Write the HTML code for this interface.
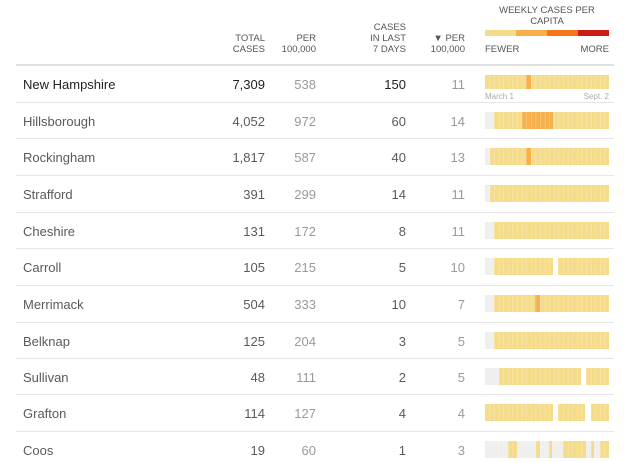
<!DOCTYPE html>
<html><head><meta charset="utf-8"><style>
body{margin:0;background:#fff;width:640px;height:462px;overflow:hidden;position:relative;font-family:"Liberation Sans",sans-serif}
.a{position:absolute}
.h{font-size:9.5px;color:#555;text-align:right;line-height:11px}
.r{font-size:13px;color:#5a5a5a}
.g{color:#9a9a9a}
.ln{position:absolute;left:16px;width:598px;height:1px;background:#e6e6e6}
</style></head><body>
<div class="a h" style="right:375px;top:33px">TOTAL<br>CASES</div>
<div class="a h" style="right:324px;top:33px">PER<br>100,000</div>
<div class="a h" style="right:234px;top:22px">CASES<br>IN LAST<br>7 DAYS</div>
<div class="a h" style="right:175px;top:33px">▼ PER<br>100,000</div>
<div class="a h" style="left:485px;width:124px;text-align:center;top:5px">WEEKLY CASES PER<br>CAPITA</div>
<div class="a" style="left:485px;top:30px;width:31px;height:6px;background:#f5dc8a"></div>
<div class="a" style="left:516px;top:30px;width:31px;height:6px;background:#f8ae4a"></div>
<div class="a" style="left:547px;top:30px;width:31px;height:6px;background:#f5761a"></div>
<div class="a" style="left:578px;top:30px;width:31px;height:6px;background:#cc1e14"></div>
<div class="a h" style="left:485px;top:44px;text-align:left">FEWER</div>
<div class="a h" style="left:570px;width:39px;top:44px">MORE</div>
<div class="a" style="left:16px;width:598px;top:64px;height:2px;background:#e0e0e0"></div>
<div class="a" style="left:485px;top:92px;font-size:8px;color:#aaa">March 1</div>
<div class="a" style="left:570px;width:39px;text-align:right;top:92px;font-size:8px;color:#aaa">Sept. 2</div>
<div id="rows"></div>
<svg id="bars" class="a" style="left:0;top:0" width="640" height="462"></svg>
<div class="a r" style="left:23px;top:77px;color:#222">New Hampshire</div><div class="a r" style="right:375px;top:77px;color:#222">7,309</div><div class="a r g" style="right:324px;top:77px">538</div><div class="a r" style="right:234px;top:77px;color:#222">150</div><div class="a r g" style="right:175px;top:77px">11</div>
<div class="a r" style="left:23px;top:114px">Hillsborough</div><div class="a r" style="right:375px;top:114px">4,052</div><div class="a r g" style="right:324px;top:114px">972</div><div class="a r" style="right:234px;top:114px">60</div><div class="a r g" style="right:175px;top:114px">14</div>
<div class="a r" style="left:23px;top:150px">Rockingham</div><div class="a r" style="right:375px;top:150px">1,817</div><div class="a r g" style="right:324px;top:150px">587</div><div class="a r" style="right:234px;top:150px">40</div><div class="a r g" style="right:175px;top:150px">13</div>
<div class="a r" style="left:23px;top:187px">Strafford</div><div class="a r" style="right:375px;top:187px">391</div><div class="a r g" style="right:324px;top:187px">299</div><div class="a r" style="right:234px;top:187px">14</div><div class="a r g" style="right:175px;top:187px">11</div>
<div class="a r" style="left:23px;top:224px">Cheshire</div><div class="a r" style="right:375px;top:224px">131</div><div class="a r g" style="right:324px;top:224px">172</div><div class="a r" style="right:234px;top:224px">8</div><div class="a r g" style="right:175px;top:224px">11</div>
<div class="a r" style="left:23px;top:260px">Carroll</div><div class="a r" style="right:375px;top:260px">105</div><div class="a r g" style="right:324px;top:260px">215</div><div class="a r" style="right:234px;top:260px">5</div><div class="a r g" style="right:175px;top:260px">10</div>
<div class="a r" style="left:23px;top:297px">Merrimack</div><div class="a r" style="right:375px;top:297px">504</div><div class="a r g" style="right:324px;top:297px">333</div><div class="a r" style="right:234px;top:297px">10</div><div class="a r g" style="right:175px;top:297px">7</div>
<div class="a r" style="left:23px;top:334px">Belknap</div><div class="a r" style="right:375px;top:334px">125</div><div class="a r g" style="right:324px;top:334px">204</div><div class="a r" style="right:234px;top:334px">3</div><div class="a r g" style="right:175px;top:334px">5</div>
<div class="a r" style="left:23px;top:370px">Sullivan</div><div class="a r" style="right:375px;top:370px">48</div><div class="a r g" style="right:324px;top:370px">111</div><div class="a r" style="right:234px;top:370px">2</div><div class="a r g" style="right:175px;top:370px">5</div>
<div class="a r" style="left:23px;top:406px">Grafton</div><div class="a r" style="right:375px;top:406px">114</div><div class="a r g" style="right:324px;top:406px">127</div><div class="a r" style="right:234px;top:406px">4</div><div class="a r g" style="right:175px;top:406px">4</div>
<div class="a r" style="left:23px;top:443px">Coos</div><div class="a r" style="right:375px;top:443px">19</div><div class="a r g" style="right:324px;top:443px">60</div><div class="a r" style="right:234px;top:443px">1</div><div class="a r g" style="right:175px;top:443px">3</div>
<script>
var ys=[84,121,157,194,231,267,304,341,377,413,450];
var C={g:"#efefef",y:"#f5dc8a",o:"#f8b04a",w:"#fff"};
var segs=[
[["y",485,526],["o",526,531],["y",531,609]],
[["g",485,494],["y",494,522],["o",522,553],["y",553,609]],
[["g",485,490],["y",490,526],["o",526,531],["y",531,609]],
[["g",485,490],["y",490,609]],
[["g",485,494],["y",494,609]],
[["g",485,494],["y",494,553],["w",553,558],["y",558,609]],
[["g",485,494],["y",494,535],["o",535,540],["y",540,609]],
[["g",485,494],["y",494,609]],
[["g",485,499],["y",499,581],["w",581,586],["y",586,609]],
[["y",485,553],["w",553,558],["y",558,585],["w",585,591],["y",591,609]],
[["g",485,508],["y",508,517],["g",517,536],["y",536,540],["g",540,549],["y",549,552],["g",552,563],["y",563,586],["g",586,591],["y",591,594],["g",594,600],["y",600,609]]
];
var s="",rows="";
ys.forEach(function(y,i){
 var top=y-9, h=i==0?14:17;
 segs[i].forEach(function(q){s+='<rect x="'+q[1]+'" y="'+top+'" width="'+(q[2]-q[1])+'" height="'+h+'" fill="'+C[q[0]]+'"/>';});
 for(var x=485+4.6;x<609;x+=4.6)s+='<rect x="'+x.toFixed(1)+'" y="'+top+'" width="0.6" height="'+h+'" fill="#fff" opacity="0.35"/>';
 if(i>0)rows+='<div class="ln" style="top:'+(y-19)+'px"></div>';
});
document.getElementById("bars").innerHTML=s;
document.getElementById("rows").innerHTML=rows;
</script>
</body></html>
